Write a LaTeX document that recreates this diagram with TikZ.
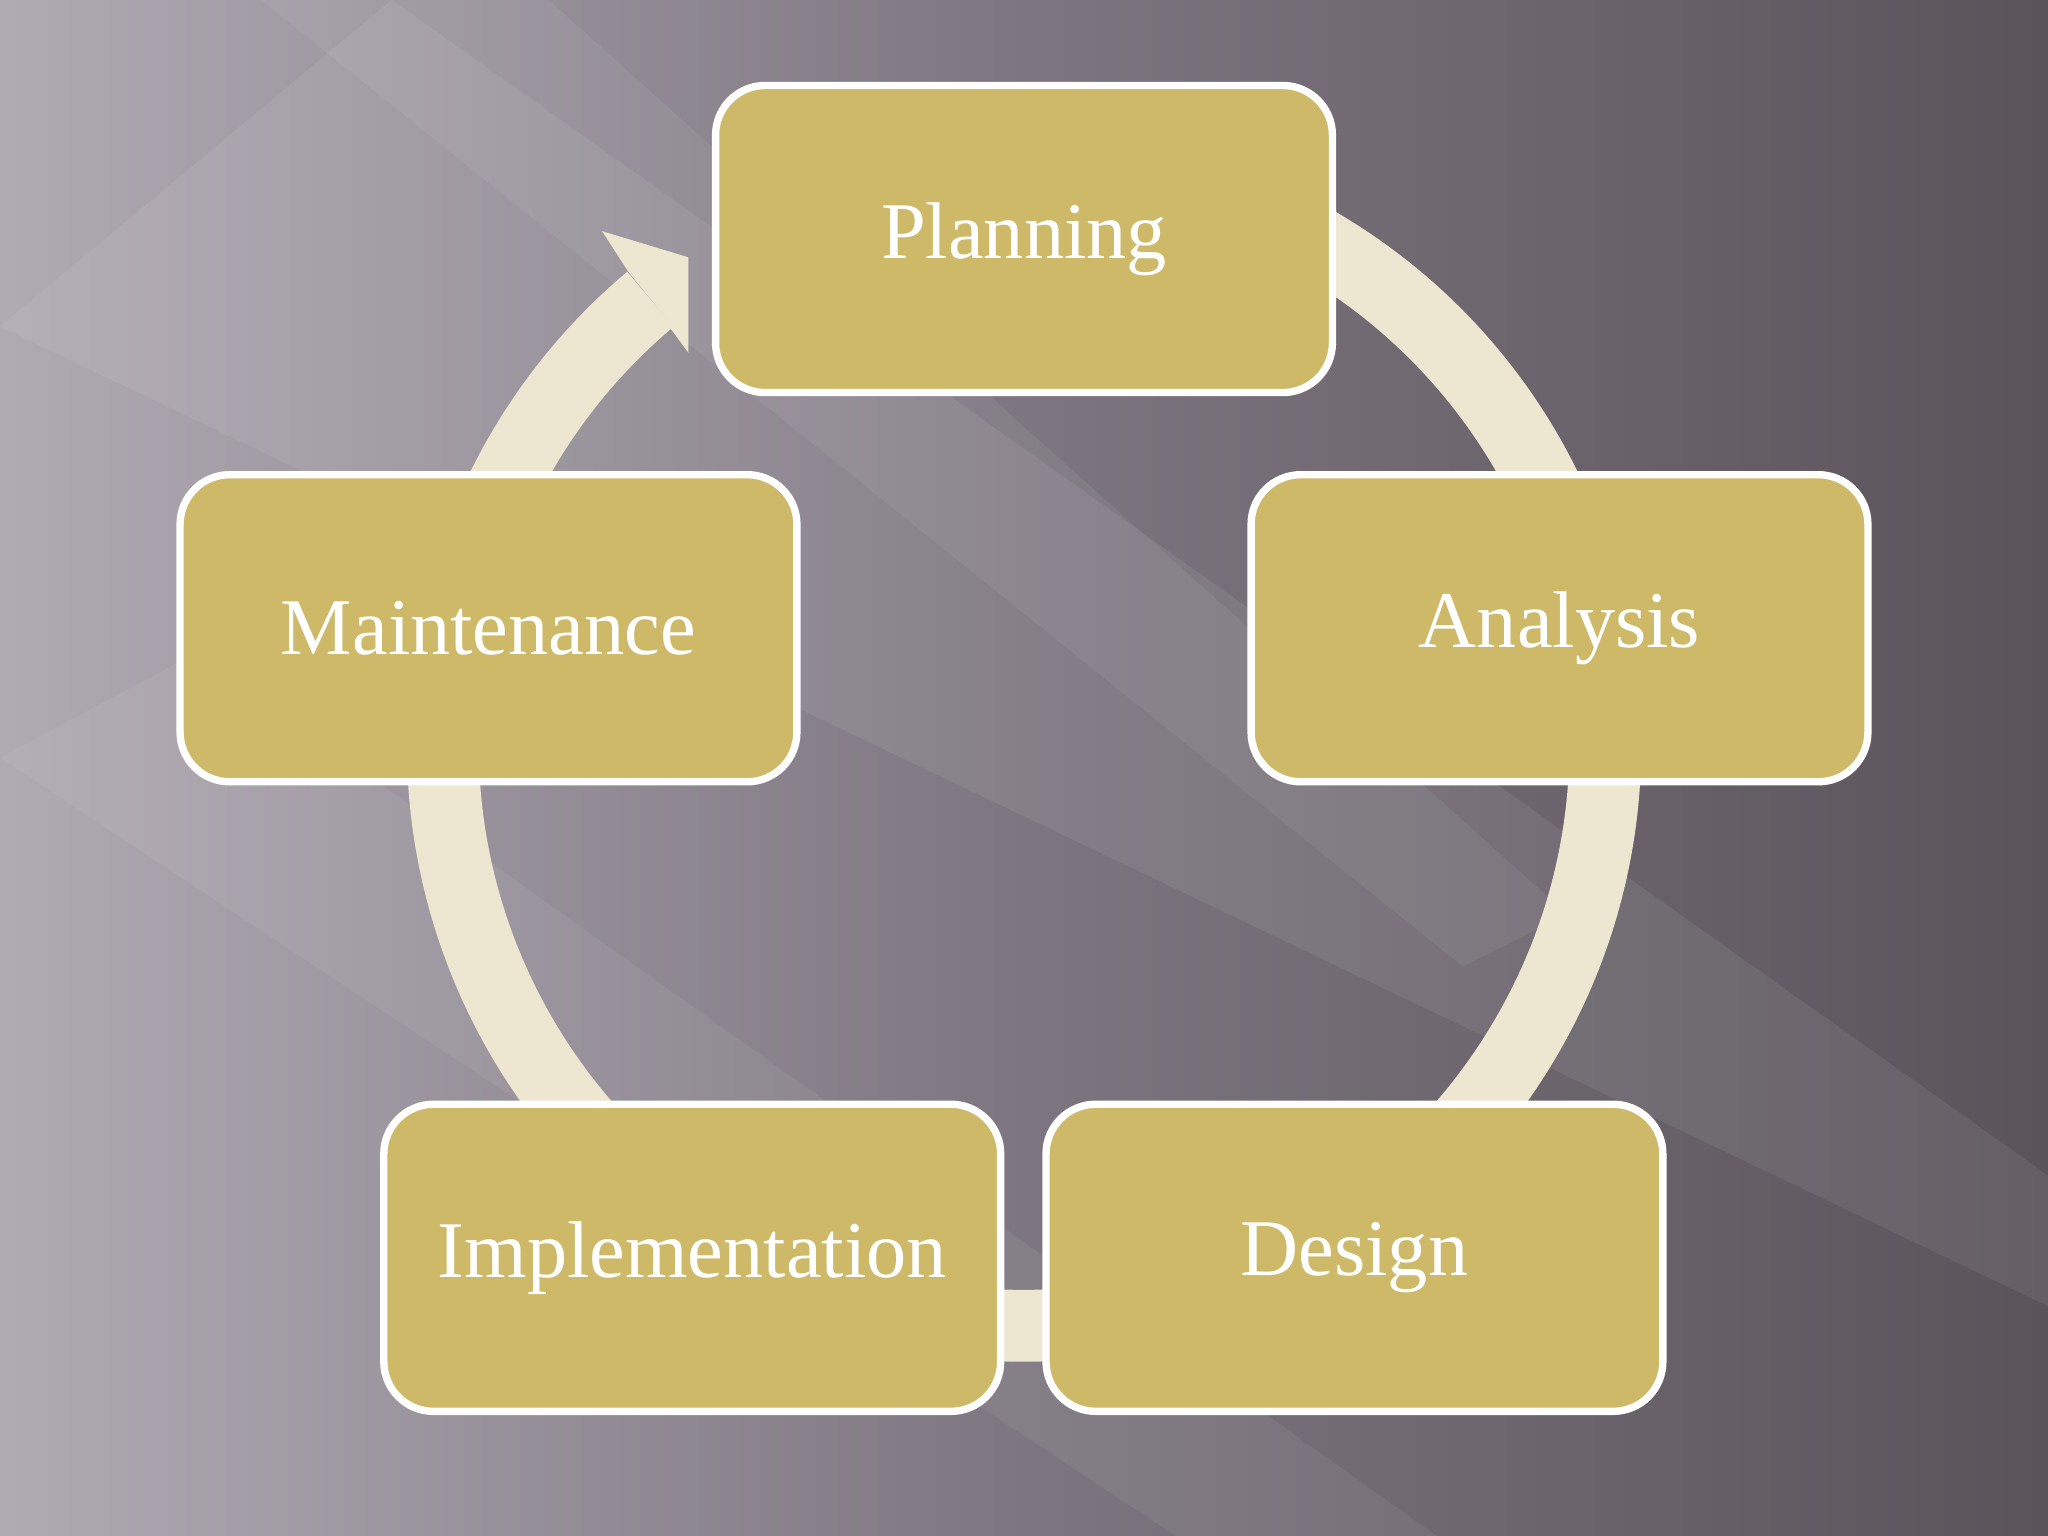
\documentclass[tikz,border=0pt]{standalone}
\usepackage{fontspec}
\setmainfont{Liberation Serif}
\begin{document}
\begin{tikzpicture}[x=0.01cm,y=-0.01cm,
  stage/.style={draw=white,line width=1.6pt,fill=boxc,rounded corners=0.38cm,minimum width=4.72cm,minimum height=2.35cm,text=white,font=\fontsize{17.5}{20}\selectfont}]
\definecolor{boxc}{HTML}{CDB968}
\definecolor{ringc}{HTML}{EDE6D1}
\definecolor{bgl}{HTML}{B0AAB3}
\definecolor{bgm}{HTML}{7D7680}
\definecolor{bgr}{HTML}{5A535A}
\useasboundingbox (0,0) rectangle (1568,1176);
\shade[left color=bgl, right color=bgr, middle color=bgm] (0,0) rectangle (1568,1176);
\fill[white,opacity=0.07] (0,250) -- (300,0) -- (1568,900) -- (1568,1000) -- cycle;
\fill[white,opacity=0.06] (0,580) -- (150,500) -- (1100,1176) -- (900,1176) -- cycle;
\fill[white,opacity=0.06] (200,0) -- (420,0) -- (1200,700) -- (1120,740) -- cycle;
% ring
\draw[ringc,line width=0.55cm] (784,570) ++(60:445 and -445) arc[start angle=60,end angle=-230,x radius=445,y radius=-445];
\fill[ringc] (461,177) -- (527,197) -- (527,270) -- (510,247) -- (516,251) -- (481,208) -- cycle;
\node[stage] (p) at (784,183) {Planning};
\node[stage] (a) at (1194,481) {Analysis};
\node[stage] (d) at (1037,963) {Design};
\node[stage] (i) at (530,963) {Implementation};
\node[stage] (m) at (374,481) {Maintenance};
\end{tikzpicture}
\end{document}
